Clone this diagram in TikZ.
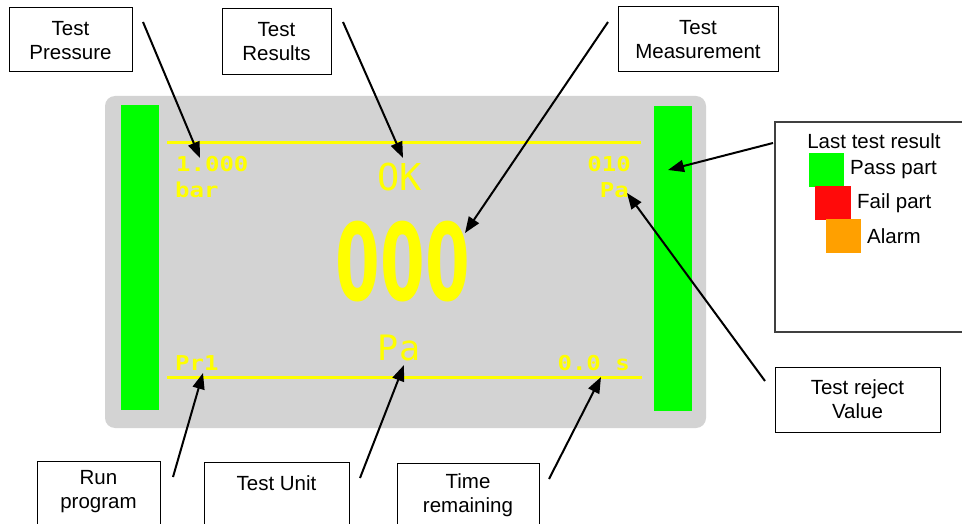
\documentclass[tikz,border=0pt]{standalone}
\usepackage{fontspec}
\usepackage{graphicx}
\setmainfont{Liberation Sans}
\newfontfamily\monofont{DejaVu Sans Mono}
\newfontfamily\digitfont{DejaVu Sans}
\usetikzlibrary{arrows.meta}
\definecolor{panelgray}{HTML}{D3D3D3}
\definecolor{lcdgreen}{HTML}{00FF00}
\definecolor{lcdyellow}{HTML}{FFFF00}
\definecolor{failred}{HTML}{FF0A0A}
\definecolor{alarmorange}{HTML}{FFA000}
\definecolor{boxedge}{HTML}{404040}
\newcommand\ysm[1]{\scalebox{1.17}[1]{\fontsize{20.5}{22}\monofont\bfseries #1}}
\tikzset{
  lblbox/.style={draw=black, line width=1pt, fill=white, inner sep=0pt},
  lbltxt/.style={font=\fontsize{20.5}{24}\selectfont, align=center, inner sep=0pt, text=black},
  lcd/.style={text=lcdyellow, inner sep=0pt},
  ptr/.style={draw=black, line width=2pt, -{Triangle[length=16pt,width=12pt]}},
  yline/.style={draw=lcdyellow, line width=3pt},
}
\begin{document}
\begin{tikzpicture}[x=1pt,y=-1pt]
\useasboundingbox (0,0) rectangle (962,524);
\clip (0,0) rectangle (962,524);
% panel
\fill[panelgray, rounded corners=10pt] (105,96) rectangle (706,428);
\fill[lcdgreen] (121,105) rectangle (159,410);
\fill[lcdgreen] (654,106) rectangle (692,411);
\draw[yline] (167,143) -- (641,143);
\draw[yline] (167,377) -- (642,377);
% LCD texts
\node[lcd, anchor=base west] (pres) at (176,172) {\ysm{1.000}};
\node[lcd, anchor=base west] (bar) at (175,197) {\ysm{bar}};
\node[lcd, anchor=base west] (ok) at (377,190) {\fontsize{37}{40}\monofont OK};
\node[lcd, anchor=base east] (rej) at (631,172) {\ysm{010}};
\node[lcd, anchor=base east] (paS) at (629,197) {\ysm{Pa}};
\node[lcd, anchor=base] (meas) at (403,300) {\scalebox{0.6}[1]{\fontsize{107}{110}\digitfont\bfseries 000}};
\node[lcd, anchor=base] (paB) at (399,360) {\fontsize{35}{38}\monofont Pa};
\node[lcd, anchor=base west] (pr) at (175,370) {\ysm{Pr1}};
\node[lcd, anchor=base east] (time) at (630,370) {\ysm{0.0 s}};
% label boxes
\node[lblbox, minimum width=123pt, minimum height=64pt] (tpbox) at (70.5,40) {};
\node[lbltxt] (tp) at (70.5,41) {Test\\Pressure};
\node[lblbox, minimum width=109pt, minimum height=66pt] (trbox) at (276.5,42) {};
\node[lbltxt] (tr) at (276.5,42) {Test\\Results};
\node[lblbox, minimum width=160pt, minimum height=65pt] (tmbox) at (698,39.5) {};
\node[lbltxt] (tm) at (698,40) {Test\\Measurement};
\draw[draw=boxedge, line width=1.5pt, fill=white] (775,122) rectangle (966,332);
\node[lbltxt, anchor=base] (lt) at (874,149) {Last test result};
\fill[lcdgreen] (809,153) rectangle (844,187);
\fill[failred] (815,186) rectangle (851,220);
\fill[alarmorange] (826,219) rectangle (861,253);
\node[lbltxt, anchor=west] (pass) at (850,170) {Pass part};
\node[lbltxt, anchor=west] (fail) at (857,203) {Fail part};
\node[lbltxt, anchor=west] (alarm) at (867,236) {Alarm};
\node[lblbox, minimum width=165pt, minimum height=65pt] (rvbox) at (857.5,399.5) {};
\node[lbltxt] (rv) at (857.5,399) {Test reject\\Value};
\node[lblbox, minimum width=123pt, minimum height=80pt, anchor=north west] (rpbox) at (37,461) {};
\node[lbltxt] (rp) at (98.5,492) {Run\\program};
\node[lblbox, minimum width=145pt, minimum height=80pt, anchor=north west] (tubox) at (204,462) {};
\node[lbltxt, anchor=base] (tu) at (276.5,490) {Test Unit};
\node[lblbox, minimum width=142pt, minimum height=80pt, anchor=north west] (trmbox) at (397,463) {};
\node[lbltxt] (trm) at (468,495) {Time\\remaining};
% arrow endpoints
\coordinate (a1s) at (143,22);  \coordinate (a1e) at (200,158);
\coordinate (a2s) at (343,22);  \coordinate (a2e) at (403,158);
\coordinate (a3s) at (608,22);  \coordinate (a3e) at (465,233);
\coordinate (a4s) at (773,143); \coordinate (a4e) at (668,170);
\coordinate (a5s) at (765,381); \coordinate (a5e) at (627,193);
\coordinate (a6s) at (173,477); \coordinate (a6e) at (203,373);
\coordinate (a7s) at (360,478); \coordinate (a7e) at (404,365);
\coordinate (a8s) at (549,479); \coordinate (a8e) at (601,377);
\draw[ptr] (a1s) -- (a1e);
\draw[ptr] (a2s) -- (a2e);
\draw[ptr] (a3s) -- (a3e);
\draw[ptr] (a4s) -- (a4e);
\draw[ptr] (a5s) -- (a5e);
\draw[ptr] (a6s) -- (a6e);
\draw[ptr] (a7s) -- (a7e);
\draw[ptr] (a8s) -- (a8e);
\end{tikzpicture}
\end{document}
